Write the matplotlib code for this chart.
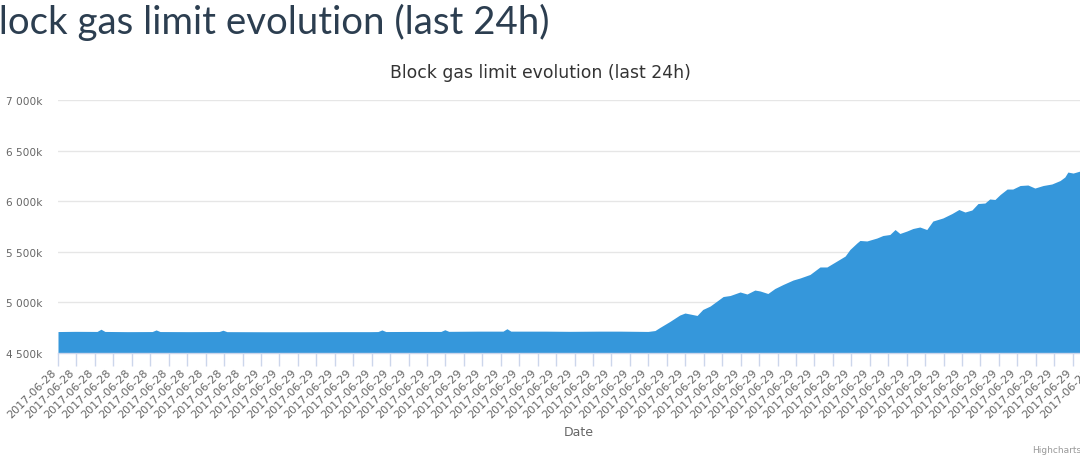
import numpy as np
import matplotlib.pyplot as plt

# hours since start of window, gas limit in thousands
hours = [0.00, 0.40, 0.90, 0.99, 1.08, 1.60, 2.17, 2.26, 2.35, 3.00,
         3.71, 3.80, 3.89, 4.77, 5.57, 6.49, 7.19, 7.37, 7.46, 7.55,
         8.10, 8.82, 8.91, 9.00, 9.70, 10.25, 10.34, 10.43, 11.22, 11.79,
         12.48, 12.94, 13.59, 13.75, 13.86, 14.09,
         14.32, 14.44, 14.56, 14.72, 14.85, 15.02, 15.18, 15.32, 15.48, 15.71,
         15.87, 16.05, 16.17, 16.35, 16.51, 16.70, 16.93, 17.09, 17.32, 17.55,
         17.71, 17.94, 18.13, 18.24, 18.40, 18.47, 18.63, 18.86, 19.00, 19.16,
         19.28, 19.39, 19.55, 19.69, 19.85, 20.01, 20.15, 20.38, 20.59, 20.75,
         20.89, 21.05, 21.19, 21.35, 21.46, 21.58, 21.70, 21.86, 21.99, 22.16,
         22.34, 22.50, 22.69, 22.89, 23.08, 23.19, 23.26, 23.38, 23.54, 23.77,
         24.00]
gas_limit = [4712, 4714, 4713, 4735, 4713, 4711, 4712, 4728, 4712, 4711,
             4712, 4725, 4711, 4710, 4710, 4711, 4711, 4712, 4728, 4712,
             4713, 4713, 4730, 4714, 4716, 4716, 4740, 4716, 4716, 4714,
             4716, 4716, 4713, 4722, 4752, 4811,
             4875, 4895, 4885, 4871, 4930, 4964, 5014, 5058, 5068, 5103,
             5083, 5122, 5113, 5088, 5137, 5177, 5221, 5241, 5276, 5350,
             5350, 5409, 5458, 5523, 5587, 5612, 5607, 5636, 5661, 5671,
             5720, 5681, 5705, 5730, 5745, 5720, 5804, 5834, 5878, 5918,
             5893, 5913, 5977, 5982, 6022, 6017, 6066, 6120, 6120, 6155,
             6160, 6130, 6155, 6170, 6204, 6239, 6288, 6278, 6298, 6290,
             6300]

y_ticks = [4500, 5000, 5500, 6000, 6500, 7000]
n_ticks = 57
n_day28 = 11
tick_labels = ["2017-06-28"] * n_day28 + ["2017-06-29"] * (n_ticks - n_day28)

fig = plt.figure(figsize=(10.8, 4.6), dpi=100)
ax = fig.add_axes([58 / 1080, 1 - 354 / 460, 1042 / 1080, 253 / 460])

ax.fill_between(hours, 4500, gas_limit, color="#3597db", linewidth=0)
ax.set_xlim(0, 24)
ax.set_ylim(4500, 7000)

ax.set_yticks(y_ticks)
ax.set_yticklabels(["{:,}k".format(v).replace(",", " ") for v in y_ticks])
ax.grid(axis="y", color="#e6e6e6", linewidth=1)
ax.set_axisbelow(True)
ax.tick_params(axis="y", length=0, pad=11, labelsize=7.6, labelcolor="#666666")

tick_pos = np.arange(n_ticks) * 24 / 1042 * 18.45
ax.set_xticks(tick_pos)
ax.set_xticklabels(tick_labels, rotation=45, ha="right", va="top",
                   rotation_mode="default")
ax.tick_params(axis="x", length=9, width=1, color="#ccd6eb", pad=1,
               labelsize=8, labelcolor="#666666")

for side in ["top", "right", "left"]:
    ax.spines[side].set_visible(False)
ax.spines["bottom"].set_color("#ccd6eb")
ax.spines["bottom"].set_linewidth(1)

ax.set_xlabel("Date", fontsize=9, color="#666666")
ax.xaxis.set_label_coords(0.5, -72 / 253)

fig.text(540 / 1080, 1 - 73 / 460, "Block gas limit evolution (last 24h)",
         ha="center", va="center", fontsize=12.4, color="#333333")
fig.text(549 / 1080, 1 - 22 / 460, "Block gas limit evolution (last 24h)",
         ha="right", va="center", fontsize=27.6, color="#2c3e50", family="Lato")
fig.text(1032 / 1080, 1 - 451 / 460, "Highcharts.com", ha="left",
         va="center", fontsize=6.5, color="#999999")

fig.savefig("out.png", dpi=100)
